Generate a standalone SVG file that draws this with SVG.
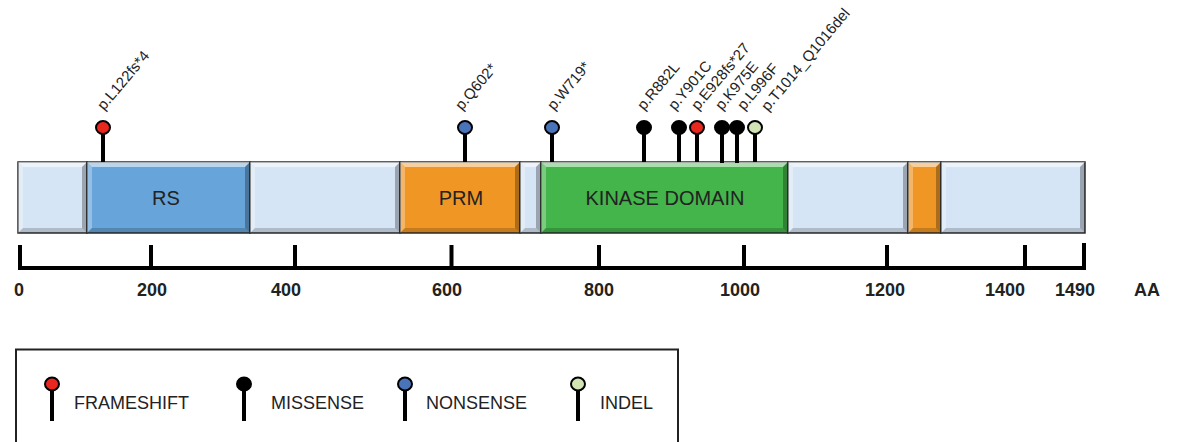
<svg xmlns="http://www.w3.org/2000/svg" width="1177" height="442" viewBox="0 0 1177 442">
<style>
  .seg{stroke:#2b2b2b;stroke-width:1.5}
  .light{fill:#d6e5f5}
  .rs{fill:#67a4d9}
  .prm{fill:#ef9624}
  .kin{fill:#43b54a}
  .hl{fill:#ffffff;opacity:0.55}
  .hl2{fill:#ffffff;opacity:0.3}
  .sh{fill:#000000;opacity:0.28}
  .sh2{fill:#000000;opacity:0.18}
  .dom{font-family:"Liberation Sans",Arial,sans-serif;font-size:20px;fill:#222;text-anchor:middle}
  .mut{font-family:"Liberation Sans",Arial,sans-serif;font-size:15px;fill:#222}
  .ax{font-family:"Liberation Sans",Arial,sans-serif;font-size:18px;font-weight:bold;fill:#222;text-anchor:middle}
  .leg{font-family:"Liberation Sans",Arial,sans-serif;font-size:18px;fill:#222}
  .stem{stroke:#000;stroke-width:4}
  .head{stroke:#000;stroke-width:2}
  .fs{fill:#e8281f}
  .ms{fill:#000}
  .ns{fill:#4a74ba}
  .id{fill:#d2e3b4}
  .axis{stroke:#000;stroke-width:4;fill:none}
</style>

<g id="protein-bar">
  <g id="seg-1">
    <rect class="seg light" x="18" y="162" width="69" height="71"/>
    <polygon class="hl" points="18,162 87,162 82,167 23,167"/>
    <polygon class="hl2" points="18,162 23,167 23,228 18,233"/>
    <polygon class="sh" points="87,162 87,233 82,228 82,167"/>
    <polygon class="sh2" points="18,233 23,228 82,228 87,233"/>
  </g>
  <g id="RS">
    <rect class="seg rs" x="87" y="162" width="163" height="71"/>
    <polygon class="hl" points="87,162 250,162 245,167 92,167"/>
    <polygon class="hl2" points="87,162 92,167 92,228 87,233"/>
    <polygon class="sh" points="250,162 250,233 245,228 245,167"/>
    <polygon class="sh2" points="87,233 92,228 245,228 250,233"/>
    <text class="dom" x="166" y="205">RS</text>
  </g>
  <g id="seg-3">
    <rect class="seg light" x="250" y="162" width="150" height="71"/>
    <polygon class="hl" points="250,162 400,162 395,167 255,167"/>
    <polygon class="hl2" points="250,162 255,167 255,228 250,233"/>
    <polygon class="sh" points="400,162 400,233 395,228 395,167"/>
    <polygon class="sh2" points="250,233 255,228 395,228 400,233"/>
  </g>
  <g id="PRM">
    <rect class="seg prm" x="400" y="162" width="120" height="71"/>
    <polygon class="hl" points="400,162 520,162 515,167 405,167"/>
    <polygon class="hl2" points="400,162 405,167 405,228 400,233"/>
    <polygon class="sh" points="520,162 520,233 515,228 515,167"/>
    <polygon class="sh2" points="400,233 405,228 515,228 520,233"/>
    <text class="dom" x="461" y="205">PRM</text>
  </g>
  <g id="seg-5">
    <rect class="seg light" x="520" y="162" width="21" height="71"/>
    <polygon class="hl" points="520,162 541,162 536,167 525,167"/>
    <polygon class="hl2" points="520,162 525,167 525,228 520,233"/>
    <polygon class="sh" points="541,162 541,233 536,228 536,167"/>
    <polygon class="sh2" points="520,233 525,228 536,228 541,233"/>
  </g>
  <g id="KINASE">
    <rect class="seg kin" x="541" y="162" width="247" height="71"/>
    <polygon class="hl" points="541,162 788,162 783,167 546,167"/>
    <polygon class="hl2" points="541,162 546,167 546,228 541,233"/>
    <polygon class="sh" points="788,162 788,233 783,228 783,167"/>
    <polygon class="sh2" points="541,233 546,228 783,228 788,233"/>
    <text class="dom" x="665" y="205">KINASE DOMAIN</text>
  </g>
  <g id="seg-7">
    <rect class="seg light" x="788" y="162" width="120" height="71"/>
    <polygon class="hl" points="788,162 908,162 903,167 793,167"/>
    <polygon class="hl2" points="788,162 793,167 793,228 788,233"/>
    <polygon class="sh" points="908,162 908,233 903,228 903,167"/>
    <polygon class="sh2" points="788,233 793,228 903,228 908,233"/>
  </g>
  <g id="seg-8">
    <rect class="seg prm" x="908" y="162" width="33" height="71"/>
    <polygon class="hl" points="908,162 941,162 936,167 913,167"/>
    <polygon class="hl2" points="908,162 913,167 913,228 908,233"/>
    <polygon class="sh" points="941,162 941,233 936,228 936,167"/>
    <polygon class="sh2" points="908,233 913,228 936,228 941,233"/>
  </g>
  <g id="seg-9">
    <rect class="seg light" x="941" y="162" width="144" height="71"/>
    <polygon class="hl" points="941,162 1085,162 1080,167 946,167"/>
    <polygon class="hl2" points="941,162 946,167 946,228 941,233"/>
    <polygon class="sh" points="1085,162 1085,233 1080,228 1080,167"/>
    <polygon class="sh2" points="941,233 946,228 1080,228 1085,233"/>
  </g>
</g>

<g id="mutations">
  <g id="m-L122"><line class="stem" x1="103" y1="128" x2="103" y2="162"/><ellipse class="head fs" cx="103" cy="127.5" rx="7" ry="6.5"/><text class="mut" transform="translate(104,111) rotate(-50)">p.L122fs*4</text></g>
  <g id="m-Q602"><line class="stem" x1="465" y1="128" x2="465" y2="162"/><ellipse class="head ns" cx="465" cy="127.5" rx="7" ry="6.5"/><text class="mut" transform="translate(462,111) rotate(-50)">p.Q602*</text></g>
  <g id="m-W719"><line class="stem" x1="552" y1="128" x2="552" y2="162"/><ellipse class="head ns" cx="552" cy="127.5" rx="7" ry="6.5"/><text class="mut" transform="translate(554,111) rotate(-50)">p.W719*</text></g>
  <g id="m-R882L"><line class="stem" x1="644" y1="128" x2="644" y2="162"/><ellipse class="head ms" cx="644" cy="127.5" rx="7" ry="6.5"/><text class="mut" transform="translate(644,111) rotate(-50)">p.R882L</text></g>
  <g id="m-Y901C"><line class="stem" x1="679" y1="128" x2="679" y2="162"/><ellipse class="head ms" cx="679" cy="127.5" rx="7" ry="6.5"/><text class="mut" transform="translate(675,111) rotate(-50)">p.Y901C</text></g>
  <g id="m-E928"><line class="stem" x1="697" y1="128" x2="697" y2="162"/><ellipse class="head fs" cx="697" cy="127.5" rx="7" ry="6.5"/><text class="mut" transform="translate(698,111) rotate(-50)">p.E928fs*27</text></g>
  <g id="m-K975E"><line class="stem" x1="722" y1="128" x2="722" y2="163"/><ellipse class="head ms" cx="722" cy="127.5" rx="7" ry="6.5"/><text class="mut" transform="translate(722,111) rotate(-50)">p.K975E</text></g>
  <g id="m-L996F"><line class="stem" x1="737" y1="128" x2="737" y2="163"/><ellipse class="head ms" cx="737" cy="127.5" rx="7" ry="6.5"/><text class="mut" transform="translate(744,111) rotate(-50)">p.L996F</text></g>
  <g id="m-T1014"><line class="stem" x1="755" y1="128" x2="755" y2="162"/><ellipse class="head id" cx="755" cy="127.5" rx="7" ry="6.5"/><text class="mut" transform="translate(768,112) rotate(-50)">p.T1014_Q1016del</text></g>
</g>

<g id="axis">
  <path class="axis" d="M20,245 V268 H1084 V243 M151,245 V268 M295,245 V268 M451.5,245 V268 M599,245 V268 M744,245 V268 M887,245 V268 M1025,245 V268"/>
  <text class="ax" x="19" y="296">0</text>
  <text class="ax" x="152" y="296">200</text>
  <text class="ax" x="286" y="296">400</text>
  <text class="ax" x="447" y="296">600</text>
  <text class="ax" x="599" y="296">800</text>
  <text class="ax" x="740" y="296">1000</text>
  <text class="ax" x="885" y="296">1200</text>
  <text class="ax" x="1005" y="296">1400</text>
  <text class="ax" x="1075" y="296">1490</text>
  <text class="ax" x="1147" y="296">AA</text>
</g>

<g id="legend">
  <rect x="16" y="349.5" width="662" height="110" fill="none" stroke="#222" stroke-width="2"/>
  <g id="leg-frameshift"><line class="stem" x1="52" y1="385" x2="52" y2="421"/><ellipse class="head fs" cx="52" cy="384" rx="7" ry="6.5"/><text class="leg" x="74" y="409">FRAMESHIFT</text></g>
  <g id="leg-missense"><line class="stem" x1="244" y1="385" x2="244" y2="421"/><ellipse class="head ms" cx="244" cy="384" rx="7" ry="6.5"/><text class="leg" x="271" y="409">MISSENSE</text></g>
  <g id="leg-nonsense"><line class="stem" x1="405" y1="385" x2="405" y2="421"/><ellipse class="head ns" cx="405" cy="384" rx="7" ry="6.5"/><text class="leg" x="426" y="409">NONSENSE</text></g>
  <g id="leg-indel"><line class="stem" x1="578" y1="385" x2="578" y2="421"/><ellipse class="head id" cx="578" cy="384" rx="7" ry="6.5"/><text class="leg" x="600" y="409">INDEL</text></g>
</g>
</svg>
